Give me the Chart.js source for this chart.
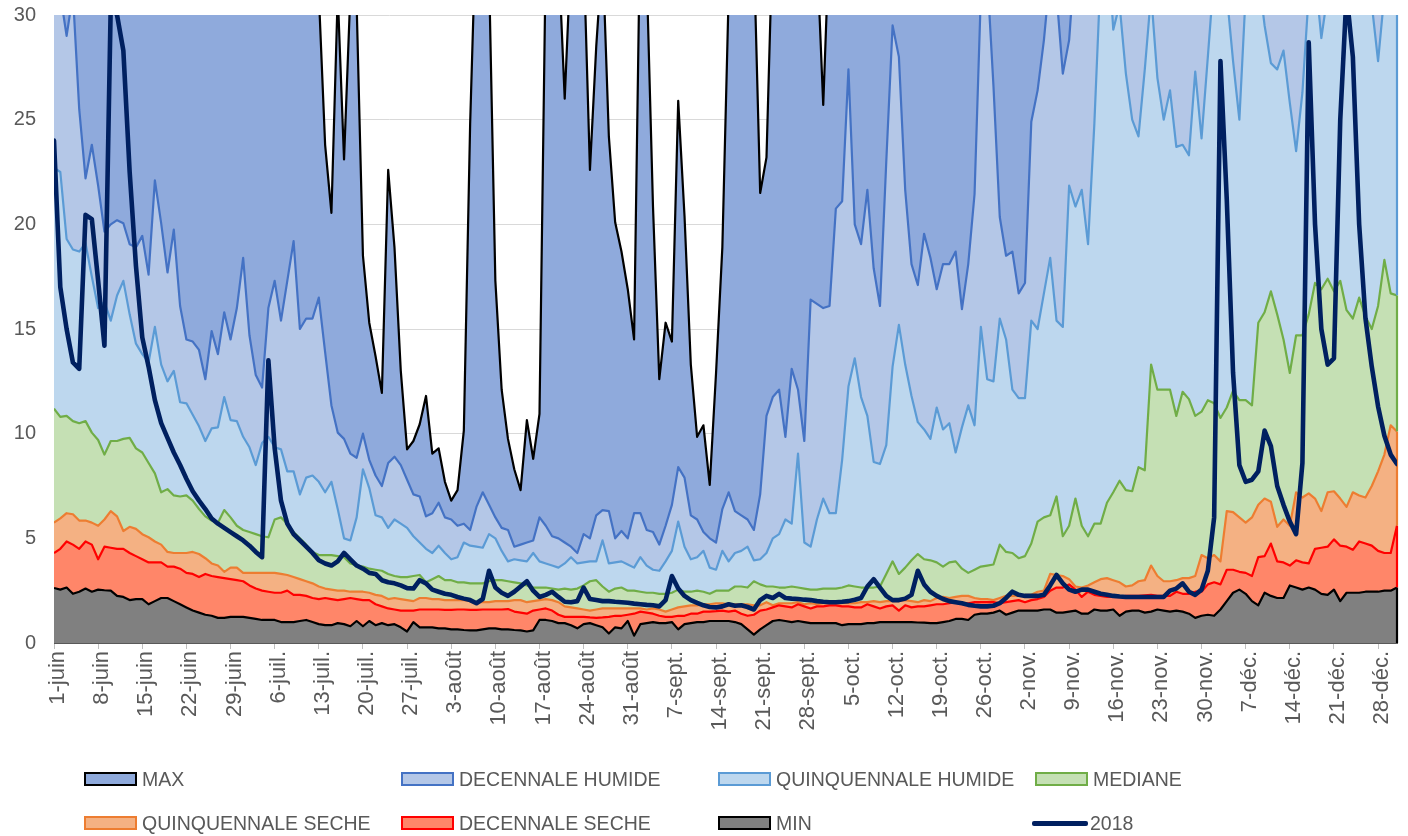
<!DOCTYPE html>
<html><head><meta charset="utf-8">
<script src="https://cdn.jsdelivr.net/npm/chart.js@4"></script>
<style>
html,body{margin:0;padding:0;background:#fff;}
#wrap{position:relative;width:1408px;height:836px;overflow:hidden;}
canvas{position:absolute;left:0;top:0;}
.lg{position:absolute;font-family:"Liberation Sans",Arial,sans-serif;font-size:19.5px;color:#595959;white-space:nowrap;line-height:22px;}
.sw{position:absolute;box-sizing:border-box;width:53px;height:14px;border-style:solid;border-width:2.5px;}
.ln{position:absolute;width:56px;height:5px;border-radius:2px;}
</style></head><body>
<div id="wrap"><canvas id="c" width="1408" height="836"></canvas><div id="legend"></div></div>
<script>
// ---- categories (1 June -> 31 Dec) ----
const months = [['juin',30],['juil.',31],['août',31],['sept.',30],['oct.',31],['nov.',30],['déc.',31]];
const categories = [];
months.forEach(([m,n]) => { for (let d = 1; d <= n; d++) categories.push(d + '-' + m); });
const tickEvery = 7;
const yTicks = [0, 5, 10, 15, 20, 25, 30];

// ---- series values ----
const maxV = [45,48,52,50,47,44,46,49,51,55,58,54,50,47,44,42,45,48,44,41,40,38,37,39,42,40,38,36,37,39,41,44,40,38,36,37,40,43,39,36,34,33,
31,23.8,20.55,31,23.1,31,30.5,18.5,15.3,13.7,11.95,22.6,18.9,13.0,9.25,9.65,10.45,11.8,9.05,9.3,7.7,6.8,7.3,10.15,24.8,35,38,32,17.3,12.1,9.75,8.3,7.3,10.65,8.8,10.95,
33,34,33,26.0,33,36,33,22.6,28.5,33,24.2,20.1,18.7,16.9,14.5,35,32,20.85,12.6,15.3,14.4,25.9,20.4,13.3,9.85,10.4,7.55,12.9,18.9,31,
36,40,38,33,21.5,23.2,34,40,45,42,39,37,35,33,25.7,34,
38,42,45,48,44,40,37,35,38,42,46,50,47,44,41,39,42,45,49,52,48,45,43,47,51,55,52,49,46,44,48,53,57,54,50,47,45,49,52,56,60,57,53,50,48,51,55,58,54,51,49,53,57,61,58,55,52,56,60,63,59,56,53,57,61,64,60,57,55,58,62,65,61,58,56,59,63,66,62,59,57,60,64,67,63,60,58,61,65,68];

const decHumide = [33,31,29.0,31,25.5,22.2,23.8,21.85,19.65,20.0,20.2,20.05,19.05,18.9,19.45,17.6,22.1,20.05,17.7,19.75,16.1,14.5,14.4,14.0,12.6,14.9,13.8,
15.8,14.5,16.0,18.4,14.7,12.8,12.2,16.0,17.3,15.4,17.3,19.2,15.0,15.5,15.5,16.5,13.9,11.35,10.05,9.75,9.05,8.85,10.0,8.75,8.0,7.5,8.6,
8.9,8.5,7.8,7.1,7.0,6.05,6.2,6.7,6.0,5.9,5.6,5.7,5.4,6.5,7.2,6.6,6.0,5.5,5.4,4.6,4.7,4.8,4.9,6.0,5.6,5.1,5.0,
4.8,4.6,4.3,5.2,5.0,6.1,6.35,6.3,5.0,5.35,5.0,6.2,6.2,5.4,5.3,4.7,5.6,6.6,8.4,7.9,6.1,5.9,5.3,5.0,4.8,6.4,7.2,
6.3,6.1,5.9,5.4,7.1,10.85,11.75,12.1,9.85,13.1,12.1,9.65,16.4,16.2,16.0,16.1,20.75,21.1,27.4,20.0,19.05,21.65,17.9,16.1,23.0,29.5,28.0,
21.65,18.1,17.1,19.55,18.4,16.9,18.1,18.1,18.7,15.95,18.1,21.45,31,32,26.6,20.35,18.5,18.7,16.7,17.2,24.9,26.4,28.8,32,31,27.2,28.8,
33,35,37,40,42,45,44,41,38,36,35,37,40,38,36,35,34,33,34,36,35,37,40,44,42,39,37,36,38,41,40,38,36,35,34,35,37,40,43,45,47,44,42,45,48,50,47,45,43,42,44,46];

const quinqHumide = [22.7,22.5,19.3,18.8,18.7,19.1,17.5,16.0,16.3,15.4,16.6,17.3,15.7,14.3,13.8,13.4,15.1,13.3,12.5,13.0,11.5,11.45,10.9,10.35,9.65,10.25,10.3,
11.75,10.65,10.6,9.85,9.35,8.5,9.55,9.85,9.35,9.25,8.2,8.2,7.1,7.9,8.0,7.7,7.2,7.7,6.4,5.0,4.9,6.0,8.3,7.4,6.1,6.0,5.5,
5.9,5.7,5.5,5.1,4.8,4.5,4.3,4.65,4.3,4.0,4.1,4.8,4.65,4.6,4.55,5.2,5.0,4.4,3.9,4.0,3.95,3.9,4.3,3.9,3.8,3.7,3.6,
3.8,4.1,3.8,3.85,3.9,3.9,4.9,3.8,3.85,3.9,3.75,3.6,4.1,3.7,3.5,3.45,3.9,4.4,5.8,4.6,4.0,4.1,4.4,3.6,3.5,4.4,3.9,
4.3,4.4,4.6,3.95,4.0,4.3,5.0,5.2,5.9,5.7,9.05,4.8,4.6,5.9,6.9,6.2,6.2,8.75,12.25,13.6,11.75,10.85,8.65,8.55,9.45,13.2,15.2,
13.3,11.8,10.55,10.2,9.75,11.25,10.2,10.5,9.1,10.3,11.35,10.4,15.1,12.6,12.5,15.5,14.5,12.1,11.7,11.7,15.4,15.0,16.7,18.4,15.4,15.1,21.85,
20.85,21.65,19.05,24.8,32,34,29.3,30.5,27.2,25.0,24.2,27.4,31,27.0,25.0,26.4,23.7,23.8,23.3,27.3,24.1,28.0,32,33,31,27.8,25.0,
31,33,32,29.5,27.7,27.4,28.3,25.8,23.5,26.3,31,32,28.9,31,33,34,33,33,32,31,30.5,27.8,31,33,33];

const mediane = [11.2,10.8,10.85,10.6,10.5,10.6,10.05,9.7,9.0,9.65,9.65,9.75,9.8,9.3,9.1,8.6,8.1,7.2,7.35,7.05,7.0,7.05,6.8,6.4,6.05,5.85,5.75,
6.35,6.0,5.6,5.4,5.3,5.2,5.1,5.05,5.9,6.0,5.7,5.3,5.0,4.7,4.35,4.2,4.2,4.2,4.15,4.1,3.8,3.7,3.65,3.55,3.5,3.45,3.3,
3.2,3.15,3.15,3.2,3.25,2.9,3.05,3.2,3.0,3.0,2.9,2.9,2.85,2.85,2.85,2.95,3.0,3.0,2.95,2.9,2.85,2.75,2.65,2.65,2.65,2.6,2.55,
2.6,2.55,2.6,2.75,2.95,3.0,2.7,2.45,2.6,2.65,2.5,2.5,2.45,2.4,2.4,2.35,2.35,2.4,2.55,2.45,2.45,2.5,2.45,2.35,2.5,2.5,2.5,
2.7,2.7,2.65,2.95,2.8,2.7,2.7,2.65,2.65,2.7,2.65,2.6,2.55,2.55,2.6,2.6,2.6,2.65,2.75,2.7,2.65,2.65,2.65,2.7,3.3,3.9,3.3,
3.6,3.95,4.25,4.0,3.95,3.85,3.65,3.85,3.9,3.55,3.35,3.5,3.65,3.7,3.75,4.7,4.35,4.3,4.05,4.15,4.75,5.8,6.0,6.1,7.0,5.1,5.6,
6.9,5.6,5.1,5.7,5.7,6.7,7.2,7.75,7.3,7.25,8.4,8.25,13.3,12.1,12.1,12.1,10.85,12.0,11.65,10.85,11.05,11.6,11.45,10.75,11.25,12.05,11.6,
11.6,11.35,15.3,15.8,16.8,15.7,14.5,12.9,14.7,14.7,15.7,17.2,16.9,17.4,16.8,17.3,15.9,15.5,16.5,15.6,15.0,16.1,18.3,16.7,16.6];

const quinqSeche = [5.75,5.95,6.2,6.15,5.85,5.85,5.75,5.6,5.9,6.3,6.05,5.35,5.55,5.45,5.2,5.05,4.85,4.7,4.35,4.3,4.3,4.3,4.35,4.25,4.05,3.8,3.7,
3.4,3.6,3.6,3.35,3.35,3.35,3.35,3.35,3.35,3.3,3.25,3.15,3.05,2.95,2.85,2.7,2.6,2.55,2.5,2.5,2.45,2.45,2.45,2.4,2.3,2.25,2.1,
2.15,2.1,2.05,2.0,2.15,2.15,2.1,2.1,2.05,2.05,2.05,2.05,2.0,1.95,1.95,1.95,2.0,2.0,2.0,2.05,2.05,1.95,2.0,2.05,2.1,2.05,1.95,
1.75,1.7,1.65,1.6,1.55,1.6,1.65,1.65,1.65,1.65,1.65,1.65,1.65,1.6,1.65,1.6,1.5,1.6,1.7,1.75,1.8,1.8,1.85,1.85,1.9,1.9,1.85,
1.85,1.85,1.85,1.8,1.8,1.95,1.8,1.9,1.9,1.9,1.95,1.85,1.9,1.85,1.9,1.9,1.9,1.9,1.9,1.9,1.95,1.95,2.0,1.95,2.0,2.0,2.0,
2.05,2.0,1.95,2.05,2.0,2.15,2.2,2.15,2.2,2.25,2.25,2.15,2.1,2.1,2.05,2.15,2.25,2.25,2.25,2.3,2.3,2.45,2.5,3.3,3.25,3.2,3.05,
2.7,2.65,2.75,2.9,3.05,3.1,3.0,2.9,2.7,2.75,2.95,3.0,3.7,3.2,2.95,2.95,3.0,3.1,3.1,3.2,4.2,4.05,4.2,3.9,6.3,6.25,6.0,
5.75,6.0,6.6,6.9,6.75,5.55,5.9,5.6,7.2,6.95,7.15,6.9,6.3,7.2,7.25,6.9,6.5,7.2,7.05,6.95,7.5,8.2,9.0,10.4,10.1];

const decSeche = [4.3,4.5,4.85,4.7,4.5,4.85,4.7,4.0,4.6,4.55,4.5,4.5,4.3,4.15,4.0,3.85,3.85,3.85,3.65,3.65,3.55,3.35,3.3,3.15,3.3,3.2,3.15,
3.1,3.05,3.0,2.95,2.75,2.6,2.5,2.45,2.4,2.4,2.5,2.3,2.3,2.25,2.15,2.1,2.15,2.1,2.05,2.1,2.15,2.1,2.05,2.05,1.85,1.75,1.65,
1.6,1.55,1.55,1.55,1.6,1.6,1.6,1.6,1.58,1.58,1.6,1.6,1.58,1.58,1.6,1.6,1.6,1.6,1.62,1.5,1.45,1.4,1.55,1.6,1.65,1.55,1.35,
1.25,1.25,1.25,1.25,1.22,1.2,1.22,1.25,1.3,1.3,1.35,1.4,1.5,1.45,1.4,1.3,1.25,1.25,1.3,1.3,1.4,1.4,1.5,1.5,1.52,1.55,1.5,
1.55,1.4,1.3,1.35,1.55,1.6,1.7,1.8,1.75,1.7,1.85,1.75,1.65,1.75,1.75,1.8,1.8,1.75,1.75,1.7,1.7,1.85,1.75,1.65,1.75,1.8,1.55,
1.8,1.7,1.75,1.75,1.8,1.85,1.85,1.9,1.95,1.92,1.9,1.95,1.95,1.95,1.95,1.9,1.95,2.0,2.05,1.95,2.05,2.1,2.2,2.5,2.65,2.65,2.8,
2.55,2.2,2.45,2.3,2.25,2.2,2.2,2.2,2.25,2.25,2.25,2.28,2.3,2.25,2.25,2.25,2.45,2.35,2.35,2.45,2.45,2.8,2.9,2.8,3.5,3.5,3.4,
3.35,3.2,4.1,4.15,4.75,3.9,3.85,3.7,3.95,3.85,3.8,4.5,4.55,4.6,4.95,4.65,4.6,4.45,4.85,4.75,4.65,4.4,4.3,4.3,5.6];

const minV = [2.63,2.55,2.65,2.35,2.45,2.6,2.45,2.55,2.52,2.5,2.25,2.2,2.05,2.1,2.1,1.85,2.0,2.15,2.15,2.0,1.85,1.7,1.55,1.45,1.35,1.3,1.2,
1.2,1.25,1.25,1.25,1.2,1.15,1.1,1.1,1.1,1.0,1.0,1.0,1.05,1.1,1.0,0.9,0.85,0.85,0.95,0.9,0.8,1.05,0.8,1.05,0.85,0.95,0.85,
0.9,0.75,0.55,1.0,0.75,0.75,0.75,0.7,0.7,0.65,0.65,0.62,0.6,0.6,0.65,0.7,0.7,0.65,0.65,0.62,0.6,0.55,0.6,1.1,1.1,1.05,0.95,
0.95,0.85,0.7,0.9,0.95,0.85,0.75,0.45,0.75,0.7,1.05,0.35,0.9,0.95,1.0,0.95,0.95,1.0,0.65,0.9,0.95,1.0,1.0,1.05,1.05,1.05,1.05,
1.0,0.9,0.65,0.4,0.65,0.85,1.05,1.1,1.05,1.0,1.05,1.0,0.95,0.95,0.95,0.95,0.95,0.85,0.9,0.9,0.9,0.95,0.95,1.0,1.0,1.0,1.0,
1.0,1.0,0.98,0.97,0.95,0.95,1.0,1.05,1.15,1.15,1.1,1.35,1.4,1.4,1.45,1.55,1.35,1.45,1.55,1.55,1.55,1.55,1.6,1.6,1.45,1.45,1.5,
1.55,1.4,1.4,1.6,1.55,1.55,1.6,1.3,1.5,1.55,1.55,1.45,1.5,1.6,1.55,1.5,1.55,1.5,1.4,1.2,1.3,1.35,1.3,1.6,2.0,2.4,2.55,
2.35,2.0,1.8,2.4,2.25,2.15,2.15,2.75,2.65,2.55,2.65,2.55,2.35,2.3,2.55,2.0,2.4,2.4,2.4,2.45,2.45,2.45,2.5,2.5,2.65];

const y2018 = [24.0,17.0,15.0,13.4,13.1,20.45,20.25,17.3,14.2,30.5,30.0,28.3,22.5,18.0,14.6,13.2,11.6,10.5,9.8,9.1,8.5,7.85,7.25,6.8,6.4,5.95,5.7,
5.5,5.3,5.1,4.9,4.65,4.35,4.1,13.5,9.3,6.8,5.7,5.2,4.9,4.6,4.3,3.95,3.8,3.7,3.9,4.3,4.0,3.7,3.55,3.35,3.3,3.0,2.9,
2.85,2.75,2.62,2.6,3.0,2.85,2.55,2.45,2.35,2.3,2.2,2.12,2.05,1.9,2.1,3.45,2.65,2.4,2.25,2.45,2.7,2.95,2.5,2.2,2.3,2.45,2.2,
1.97,1.95,2.0,2.65,2.1,2.05,2.0,2.0,1.97,1.95,1.92,1.88,1.85,1.82,1.8,1.75,2.05,3.2,2.6,2.25,2.05,1.92,1.8,1.72,1.7,1.75,1.85,
1.78,1.8,1.72,1.6,2.05,2.25,2.15,2.35,2.15,2.12,2.1,2.07,2.05,2.0,1.97,1.95,1.95,1.97,2.0,2.07,2.15,2.7,3.05,2.65,2.25,2.05,2.05,
2.12,2.3,3.45,2.8,2.45,2.25,2.1,2.0,1.95,1.9,1.82,1.78,1.75,1.75,1.78,1.9,2.15,2.45,2.3,2.25,2.25,2.25,2.3,2.75,3.25,2.85,2.55,
2.45,2.55,2.55,2.45,2.35,2.3,2.25,2.22,2.2,2.2,2.2,2.2,2.2,2.2,2.2,2.5,2.6,2.85,2.45,2.3,2.55,3.45,6.0,27.8,21.2,12.9,8.5,
7.7,7.8,8.2,10.15,9.4,7.5,6.6,5.8,5.2,8.6,28.7,20.0,15.0,13.3,13.6,25,31,28.0,20.0,15.5,13.2,11.3,9.9,9.0,8.55];

// ---- series styling (drawn back to front: MAX first) ----
const areaSeries = [
  {label:'MAX', data:maxV, line:'#000000', fill:'#8FAADC', order:7},
  {label:'DECENNALE HUMIDE', data:decHumide, line:'#4472C4', fill:'#B4C7E7', order:6},
  {label:'QUINQUENNALE HUMIDE', data:quinqHumide, line:'#5B9BD5', fill:'#BDD7EE', order:5},
  {label:'MEDIANE', data:mediane, line:'#70AD47', fill:'#C5E0B4', order:4},
  {label:'QUINQUENNALE SECHE', data:quinqSeche, line:'#ED7D31', fill:'#F4B183', order:3},
  {label:'DECENNALE SECHE', data:decSeche, line:'#FF0000', fill:'#FF8669', order:2},
  {label:'MIN', data:minV, line:'#000000', fill:'#808080', order:1}
];
const lineSeries = {label:'2018', data:y2018, line:'#002060', order:0};

const datasets = areaSeries.map(s => ({
  label: s.label, data: s.data, order: s.order,
  borderColor: s.line, backgroundColor: s.fill, borderWidth: 2.2,
  fill: 'origin', pointRadius: 0, tension: 0, borderJoinStyle: 'round', clip: 0
}));
datasets.push({
  label: lineSeries.label, data: lineSeries.data, order: lineSeries.order,
  borderColor: lineSeries.line, backgroundColor: lineSeries.line, borderWidth: 4.6,
  fill: false, pointRadius: 0, tension: 0, borderJoinStyle: 'round', borderCapStyle: 'round', clip: 0
});

// Excel draws each area's outline down the right edge too: emulate the visible parts
const rightEdgePlugin = {
  id: 'rightEdge',
  afterDatasetDraw(chart, args) {
    if (args.index !== areaSeries.length - 1) return;
    const {ctx, chartArea, scales} = chart;
    const last = categories.length - 1;
    const x = scales.x.getPixelForValue(last);
    ctx.save();
    ctx.beginPath(); ctx.rect(chartArea.left, chartArea.top, chartArea.width + 2, chartArea.height); ctx.clip();
    ctx.lineWidth = 2.2;
    for (let k = 0; k < areaSeries.length; k++) {
      const top = Math.min(areaSeries[k].data[last], 30);
      const bottom = k + 1 < areaSeries.length ? Math.min(areaSeries[k + 1].data[last], 30) : 0;
      if (top <= bottom) continue;
      ctx.strokeStyle = areaSeries[k].line;
      ctx.beginPath();
      ctx.moveTo(x, scales.y.getPixelForValue(top));
      ctx.lineTo(x, scales.y.getPixelForValue(bottom));
      ctx.stroke();
    }
    ctx.restore();
  }
};

const FONT = 'Liberation Sans';
new Chart(document.getElementById('c'), {
  type: 'line',
  data: { labels: categories, datasets },
  plugins: [rightEdgePlugin],
  options: {
    responsive: false, animation: false, events: [],
    layout: { padding: { left: 0, right: 11, top: 15, bottom: 83 } },
    plugins: { legend: { display: false }, tooltip: { enabled: false } },
    scales: {
      x: {
        type: 'category', offset: false,
        grid: { display: true, drawOnChartArea: false, drawTicks: true, tickLength: 6, lineWidth: 1,
                color: ctx => (ctx.index % tickEvery === 0) ? '#BFBFBF' : 'rgba(0,0,0,0)' },
        border: { display: true, color: '#595959', width: 1 },
        ticks: { autoSkip: false, maxRotation: 90, minRotation: 90, padding: 2, labelOffset: 4, color: '#595959',
                 font: { family: FONT, size: 22 },
                 callback: (v, i) => (i % tickEvery === 0) ? categories[i] : '' },
        afterFit: s => { s.height = 110; s.paddingLeft = 0; s.paddingRight = 0; }
      },
      y: {
        min: yTicks[0], max: yTicks[yTicks.length - 1],
        afterBuildTicks: s => { s.ticks = yTicks.map(v => ({ value: v })); },
        grid: { color: '#D9D9D9', lineWidth: 1, drawTicks: false },
        border: { display: false },
        ticks: { padding: 18, color: '#595959', font: { family: FONT, size: 20 } },
        afterFit: s => { s.width = 54; s.paddingTop = 0; s.paddingBottom = 0; }
      }
    }
  }
});

// ---- legend (HTML, fixed Excel-like grid) ----
const legendItems = areaSeries.concat([lineSeries]);
const colX = [84, 401, 718, 1035];
const rowY = [779, 823];
const lg = document.getElementById('legend');
legendItems.forEach((s, i) => {
  const cx = colX[i % 4], cy = rowY[Math.floor(i / 4)];
  if (s.fill) {
    const sw = document.createElement('div');
    sw.className = 'sw';
    sw.style.left = cx + 'px'; sw.style.top = (cy - 7) + 'px';
    sw.style.background = s.fill; sw.style.borderColor = s.line;
    lg.appendChild(sw);
    const t = document.createElement('div');
    t.className = 'lg'; t.textContent = s.label;
    t.style.left = (cx + 58) + 'px'; t.style.top = (cy - 11) + 'px';
    lg.appendChild(t);
  } else {
    const ln = document.createElement('div');
    ln.className = 'ln';
    ln.style.left = (cx - 3) + 'px'; ln.style.top = (cy - 2) + 'px';
    ln.style.background = s.line;
    lg.appendChild(ln);
    const t = document.createElement('div');
    t.className = 'lg'; t.textContent = s.label;
    t.style.left = (cx + 55) + 'px'; t.style.top = (cy - 11) + 'px';
    lg.appendChild(t);
  }
});
</script>
</body></html>
